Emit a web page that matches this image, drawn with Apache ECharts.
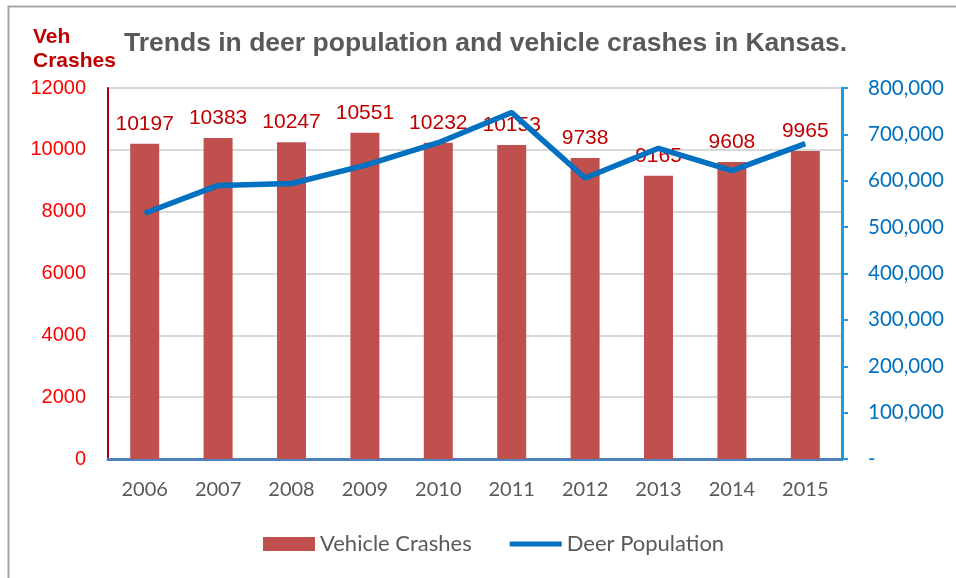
<!DOCTYPE html>
<html>
<head>
<meta charset="utf-8">
<script src="https://cdn.jsdelivr.net/npm/echarts@6/dist/echarts.min.js"></script>
<style>
  html, body { margin: 0; padding: 0; background: #fff; }
  #main { width: 956px; height: 578px; }
</style>
</head>
<body>
<div id="main"></div>
<script>
// chart data
const years = ['2006', '2007', '2008', '2009', '2010', '2011', '2012', '2013', '2014', '2015'];
const vehicleCrashes = [10197, 10383, 10247, 10551, 10232, 10153, 9738, 9165, 9608, 9965];
const deerPopulation = [530000, 590000, 594000, 633000, 682000, 747000, 606000, 670000, 622000, 680000];
const crashTicks = [0, 2000, 4000, 6000, 8000, 10000, 12000];
const deerTicks = [0, 100000, 200000, 300000, 400000, 500000, 600000, 700000, 800000];

const chart = echarts.init(document.getElementById('main'));

const option = {
  animation: false,
  backgroundColor: '#fff',
  // outer chart frame (cut off on the right and bottom)
  graphic: [{
    type: 'rect',
    left: 6, top: 4,
    shape: { width: 980, height: 600 },
    style: { fill: 'none', stroke: '#A6A6A6', lineWidth: 2 },
    silent: true
  }],
  title: [
    {
      text: 'Trends in deer population and vehicle crashes in Kansas.',
      left: 119, top: 25,
      textStyle: { fontFamily: 'Liberation Sans', fontWeight: 'bold', fontSize: 26.5, color: '#595959' }
    },
    {
      text: 'Veh\nCrashes',
      left: 28, top: 20,
      textStyle: { fontFamily: 'Liberation Sans', fontWeight: 'bold', fontSize: 21, lineHeight: 24, color: '#C00000' }
    }
  ],
  legend: {
    bottom: 18,
    left: 258,
    itemWidth: 52,
    itemHeight: 14,
    itemGap: 38,
    textStyle: { fontFamily: 'Lato', fontSize: 22, color: '#595959' },
    data: [
      { name: 'Vehicle Crashes', icon: 'rect' },
      { name: 'Deer Population', icon: 'path://M0,0 L50,0 L50,5 L0,5 Z' }
    ]
  },
  grid: { left: 108, right: 114, top: 88, bottom: 119, containLabel: false },
  xAxis: [
    {
      type: 'category',
      data: years,
      axisLine: { show: true, lineStyle: { color: '#4F81BD', width: 2 } },
      axisTick: { show: false },
      axisLabel: { margin: 21, fontFamily: 'Lato', fontSize: 20, color: '#595959' }
    },
    {
      type: 'category',
      position: 'top',
      data: years,
      axisLine: { show: true, lineStyle: { color: '#4F81BD', width: 3 } },
      axisTick: { show: false },
      axisLabel: { show: false }
    }
  ],
  yAxis: [
    {
      type: 'value',
      min: crashTicks[0],
      max: crashTicks[crashTicks.length - 1],
      interval: 2000,
      axisLine: { show: true, lineStyle: { color: '#A50021', width: 2 } },
      axisTick: { show: false },
      axisLabel: { margin: 22, fontFamily: 'Liberation Sans', fontSize: 20, color: '#FF0000', formatter: v => String(v) },
      splitLine: { lineStyle: { color: '#D9D9D9', width: 2 } }
    },
    {
      type: 'value',
      position: 'right',
      min: deerTicks[0],
      max: deerTicks[deerTicks.length - 1],
      interval: 100000,
      axisLine: { show: true, lineStyle: { color: '#1E9BE0', width: 3 } },
      axisTick: { show: true, inside: false, length: 6, lineStyle: { color: '#1E9BE0', width: 2 } },
      axisLabel: {
        margin: 26,
        fontFamily: 'Lato', fontSize: 20.5, color: '#0070C0',
        formatter: v => v === 0 ? '-' : v.toLocaleString('en-US')
      },
      splitLine: { show: false }
    }
  ],
  series: [
    {
      name: 'Vehicle Crashes',
      type: 'bar',
      data: vehicleCrashes,
      barWidth: 29,
      itemStyle: { color: '#C0504D' },
      label: {
        show: true,
        position: 'top',
        distance: 9,
        fontFamily: 'Liberation Sans',
        fontSize: 21,
        color: '#C00000'
      }
    },
    {
      name: 'Deer Population',
      type: 'line',
      yAxisIndex: 1,
      data: deerPopulation,
      symbol: 'none',
      z: 5,
      lineStyle: { color: '#0070C0', width: 5.5 },
      itemStyle: { color: '#0070C0' }
    }
  ]
};

option && chart.setOption(option);
</script>
</body>
</html>
